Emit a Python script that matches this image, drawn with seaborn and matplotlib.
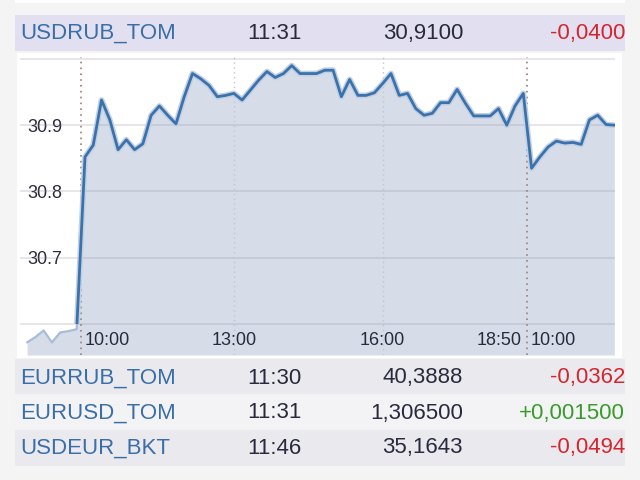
import numpy as np
import pandas as pd
import matplotlib
matplotlib.use("Agg")
import matplotlib.pyplot as plt
import matplotlib.patheffects as pe
from matplotlib.patches import Rectangle
import seaborn as sns

# ---------------- data ----------------
prev_times = ["17:50", "18:00", "18:10", "18:20", "18:30", "18:40", "18:50"]
prev_vals = [30.572, 30.580, 30.590, 30.572, 30.587, 30.589, 30.592]

day1_times = list(pd.date_range("2013-01-02 10:00", "2013-01-02 18:50", freq="10min").strftime("%H:%M"))
day1_vals = [30.852, 30.870, 30.938, 30.908, 30.863, 30.878, 30.863, 30.872, 30.915, 30.929,
             30.915, 30.902, 30.943, 30.978, 30.970, 30.960, 30.943, 30.945, 30.948, 30.938,
             30.953, 30.968, 30.981, 30.972, 30.978, 30.990, 30.978, 30.978, 30.978, 30.983,
             30.983, 30.943, 30.969, 30.945, 30.945, 30.949, 30.963, 30.978, 30.945, 30.948,
             30.925, 30.915, 30.918, 30.934, 30.934, 30.954, 30.933, 30.914, 30.914, 30.914,
             30.925, 30.900, 30.929, 30.948]

day2_times = list(pd.date_range("2013-01-03 10:00", "2013-01-03 11:40", freq="10min").strftime("%H:%M"))
day2_vals = [30.835, 30.852, 30.867, 30.876, 30.873, 30.874, 30.871, 30.908, 30.915, 30.901, 30.900]

y_ticks = [30.6, 30.7, 30.8, 30.9, 31.0]
y_tick_labels = ["", "30.7", "30.8", "30.9", ""]
x_tick_times = ["13:00", "16:00"]

header = ["USDRUB_TOM", "11:31", "30,9100", "-0,0400"]
rows_names = ["EURRUB_TOM", "EURUSD_TOM", "USDEUR_BKT"]
rows_times = ["11:30", "11:31", "11:46"]
rows_values = ["40,3888", "1,306500", "35,1643"]
rows_changes = ["-0,0362", "+0,001500", "-0,0494"]

# ---------------- build frame (index-based session axis) ----------------
sessions = ([("prev", t, v) for t, v in zip(prev_times, prev_vals)] +
            [("day1", t, v) for t, v in zip(day1_times, day1_vals)] +
            [("day2", t, v) for t, v in zip(day2_times, day2_vals)])
df = pd.DataFrame(sessions, columns=["session", "time", "value"])
df["x"] = np.arange(len(df)) - len(prev_times)

# ---------------- style ----------------
sns.set_style("white")
plt.rcParams["font.family"] = ["Liberation Sans", "DejaVu Sans"]

W, H = 640, 480
BG = "#f4f4f5"
LINE = "#3a72ae"
FILL = "#d6dde8"
NAME_C = "#3a6ea8"
DARK = "#2a2a3e"
RED = "#d22630"
GREEN = "#3a9a2a"

fig = plt.figure(figsize=(6.4, 4.8), dpi=100, facecolor=BG)


def frect(x0, y0, x1, y1, color, z=-5):
    fig.patches.append(Rectangle((x0 / W, 1 - y1 / H), (x1 - x0) / W, (y1 - y0) / H,
                                 transform=fig.transFigure, facecolor=color,
                                 edgecolor="none", zorder=z))


def ftext(x, y, s, color, ha="left", size=16):
    fig.text(x / W, 1 - y / H, s, color=color, ha=ha, va="center", fontsize=size)


# background bands
frect(15, 0, 625, 3, "white")
frect(15, 15, 625, 51, "#e2e0f0")
frect(17, 53, 622, 358, "white")
frect(15, 359, 625, 394, "#eaeaee")
frect(15, 394, 625, 430, "#f3f3f5")
frect(15, 430, 625, 466, "#eaeaee")

# header row
ftext(20, 33.5, header[0], NAME_C)
ftext(247, 33.5, header[1], DARK)
ftext(463, 33.5, header[2], DARK, ha="right")
ftext(625, 33.5, header[3], RED, ha="right")

# lower rows
for i, (n, t, v, c) in enumerate(zip(rows_names, rows_times, rows_values, rows_changes)):
    yc = 378 + i * 35
    ftext(20, yc, n, NAME_C)
    ftext(247, yc, t, DARK)
    ftext(463, yc, v, DARK, ha="right")
    ftext(625, yc, c, GREEN if c.startswith("+") else RED, ha="right")

# ---------------- chart ----------------
ax = fig.add_axes([20 / W, 1 - 355 / H, 595 / W, 298 / H])
ax.set_zorder(1)
ax.set_facecolor("white")
ymin, ymax = 30.553, 31.003
xmin, xmax = df["x"].iloc[0] - 0.86, df["x"].iloc[-1] + 0.09
ax.set_xlim(xmin, xmax)
ax.set_ylim(ymin, ymax)

ax.fill_between(df["x"], df["value"], ymin, color=FILL, lw=0, zorder=1)

# horizontal grid
for yv in y_ticks:
    ax.axhline(yv, color=(0.55, 0.5, 0.58, 0.22), lw=1.3, zorder=1.5)

# vertical time grid
for t in x_tick_times:
    xv = df.loc[(df["session"] == "day1") & (df["time"] == t), "x"].iloc[0]
    ax.axvline(xv, color="#c4c4d0", lw=1.0, ls=(0, (1, 2.5)), zorder=1.6)
    ax.annotate(t, xy=(xv, 0.047), xycoords=("data", "axes fraction"),
                ha="center", va="center", fontsize=13, color=DARK, zorder=5)

# session separators
sep1 = (df.loc[df["session"] == "prev", "x"].max() + df.loc[df["session"] == "day1", "x"].min()) / 2
sep2 = (df.loc[df["session"] == "day1", "x"].max() + df.loc[df["session"] == "day2", "x"].min()) / 2
for s in (sep1, sep2):
    ax.axvline(s, color="#9a8078", lw=1.2, ls=(0, (1, 2.5)), zorder=1.7)

ax.annotate(day1_times[0], xy=(sep1, 0.047), xycoords=("data", "axes fraction"),
            xytext=(2.5, 0), textcoords="offset points",
            ha="left", va="center", fontsize=13, color=DARK, zorder=5)
ax.annotate(day1_times[-1], xy=(sep2, 0.047), xycoords=("data", "axes fraction"),
            xytext=(-4, 0), textcoords="offset points",
            ha="right", va="center", fontsize=13, color=DARK, zorder=5)
ax.annotate(day2_times[0], xy=(sep2, 0.047), xycoords=("data", "axes fraction"),
            xytext=(2.5, 0), textcoords="offset points",
            ha="left", va="center", fontsize=13, color=DARK, zorder=5)

# lines: strong above 30.6, faded below
sns.lineplot(data=df, x="x", y="value", ax=ax, color="#a6bcd8", lw=1.6, zorder=3,
             estimator=None, sort=False)
faded = ax.lines[-1]
sns.lineplot(data=df, x="x", y="value", ax=ax, color=LINE, lw=2.0, zorder=4,
             estimator=None, sort=False)
strong = ax.lines[-1]
strong.set_path_effects([pe.Stroke(linewidth=4.2, foreground="#c3d0e2"), pe.Normal()])
clip_hi = Rectangle((xmin, y_ticks[0]), xmax - xmin, ymax - y_ticks[0], transform=ax.transData)
clip_lo = Rectangle((xmin, ymin), xmax - xmin, y_ticks[0] - ymin, transform=ax.transData)
strong.set_clip_path(clip_hi)
faded.set_clip_path(clip_lo)

# y ticks inside
ax.set_yticks(y_ticks)
ax.set_yticklabels(y_tick_labels)
ax.tick_params(axis="y", direction="in", length=0, pad=-5, labelsize=13, labelcolor=DARK)
for lab in ax.get_yticklabels():
    lab.set_horizontalalignment("left")
    lab.set_bbox(dict(facecolor="white", edgecolor="none", pad=0.5))
ax.set_xticks([])
ax.set_xlabel("")
ax.set_ylabel("")
for sp in ax.spines.values():
    sp.set_visible(False)

fig.savefig("out.png", dpi=100, facecolor=BG)
